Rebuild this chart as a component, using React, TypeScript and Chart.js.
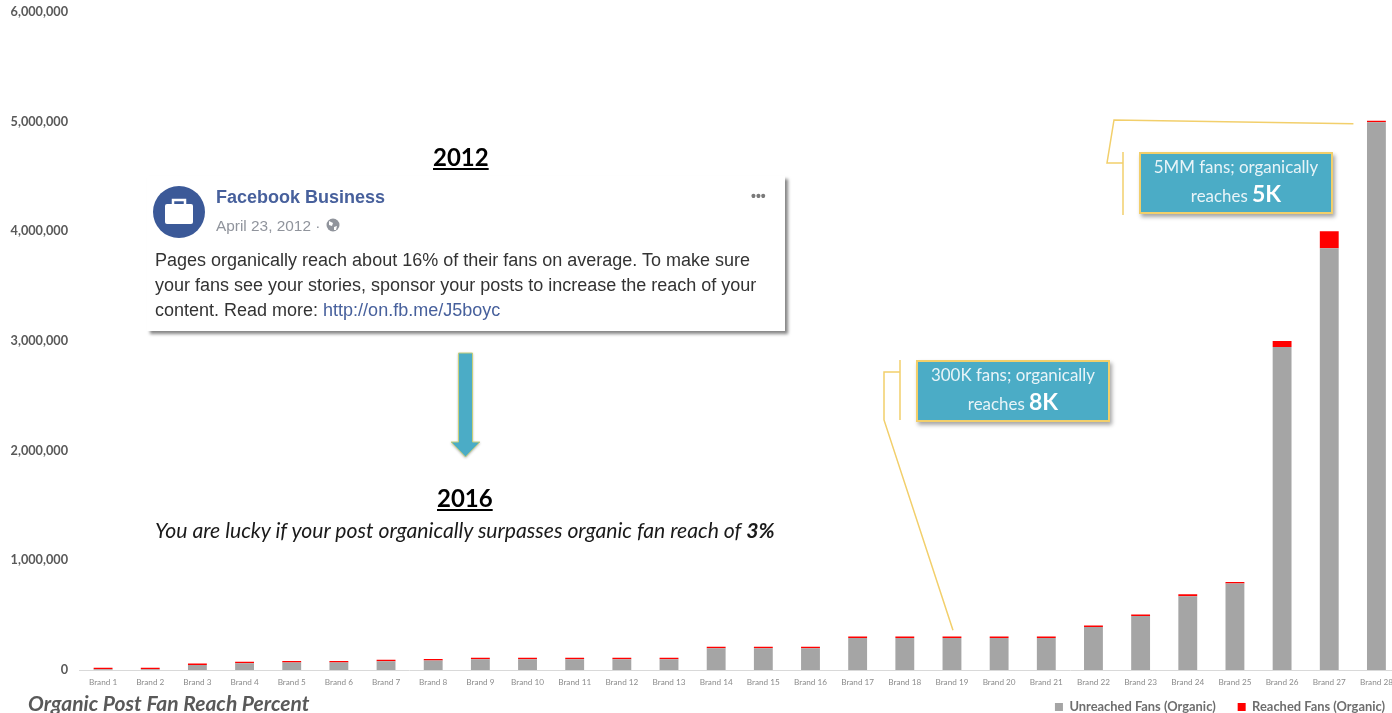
import React, { useEffect, useRef } from "react";
import { Chart, registerables } from "chart.js";

Chart.register(...registerables);

const brands = Array.from({ length: 28 }, (_, i) => `Brand ${i + 1}`);

// Organic fans per brand who did not see a post
const unreachedFans = [
  8000, 8000, 46000, 62000, 70000, 70000, 80000, 88000, 98000, 98000, 98000, 98000, 98000,
  198000, 198000, 198000, 292000, 292000, 292000, 292000, 292000, 392000, 492000, 672000,
  790000, 2945000, 3845000, 4995000,
];

// Organic fans per brand who did see a post
const reachedFans = [
  14000, 14000, 9000, 10000, 12000, 12000, 12000, 12000, 12000, 12000, 12000, 12000, 12000,
  10000, 10000, 10000, 8000, 8000, 8000, 8000, 8000, 8000, 10000, 20000,
  10000, 55000, 155000, 5000,
];

const yTicks = [0, 1000000, 2000000, 3000000, 4000000, 5000000, 6000000];

const LEAD = "#f2cf6b";
const TEAL = "#4bacc6";

// Positions the bottom title and legend, and draws the leader lines from each callout to its bar.
const calloutPlugin = {
  id: "calloutLeaders",
  afterLayout(chart: any) {
    const t = chart.titleBlock;
    t.left = 28;
    t.right = 700;
    t.top = 692;
    t.bottom = 713;
    const l = chart.legend;
    l.top = 701 - l.height / 2;
    l.bottom = l.top + l.height;
    l.right = 1407;
  },
  afterDraw(chart: any) {
    const { ctx, scales } = chart;
    const xs = scales.x;
    const ys = scales.y;
    ctx.save();
    ctx.strokeStyle = LEAD;
    ctx.lineWidth = 1.5;
    const poly = (pts: number[][]) => {
      ctx.beginPath();
      pts.forEach(([x, y], i) => (i ? ctx.lineTo(x, y) : ctx.moveTo(x, y)));
      ctx.stroke();
    };
    const top28 = ys.getPixelForValue(unreachedFans[27] + reachedFans[27]);
    poly([[xs.getPixelForValue(27) - 23, top28 + 2], [1114, 120], [1107, 163], [1123, 163]]);
    poly([[1123, 152], [1123, 215]]);
    const top19 = ys.getPixelForValue(unreachedFans[18] + reachedFans[18]);
    poly([[xs.getPixelForValue(18) + 1, top19 - 7], [884, 420], [884, 372], [900, 372]]);
    poly([[900, 360], [900, 420]]);
    ctx.restore();
  },
};

const abs = (left: number, top: number, extra: React.CSSProperties = {}): React.CSSProperties => ({
  position: "absolute",
  left,
  top,
  whiteSpace: "nowrap",
  ...extra,
});

function Callout({ left, top, head, tail, big }: { left: number; top: number; head: string; tail: string; big: string }) {
  return (
    <div
      style={abs(left, top, {
        width: 190,
        height: 58,
        background: TEAL,
        border: `2px solid ${LEAD}`,
        boxShadow: "2px 3px 4px rgba(0,0,0,0.35)",
        color: "#e8f4f8",
        fontFamily: "Lato, sans-serif",
        fontSize: 16.9,
        textAlign: "center",
        lineHeight: "27px",
      })}
    >
      <div style={{ marginTop: -1 }}>{head}</div>
      <div>
        {tail} <b style={{ fontSize: 23, color: "#fff" }}>{big}</b>
      </div>
    </div>
  );
}

export default function App() {
  const ref = useRef<HTMLCanvasElement>(null);

  useEffect(() => {
    const chart = new Chart(ref.current!, {
      type: "bar",
      plugins: [calloutPlugin],
      data: {
        labels: brands,
        datasets: [
          { label: "Unreached Fans (Organic)", data: unreachedFans, backgroundColor: "#a5a5a5", stack: "fans" },
          { label: "Reached Fans (Organic)", data: reachedFans, backgroundColor: "#ff0000", stack: "fans", minBarLength: 1.5 },
        ],
      },
      options: {
        responsive: false,
        animation: false,
        layout: { padding: { left: 5, top: 12, right: 0, bottom: 0 } },
        datasets: { bar: { barPercentage: 0.8, categoryPercentage: 0.5 } },
        scales: {
          x: {
            stacked: true,
            grid: { display: false, drawTicks: false },
            border: { color: "#d9d9d9", width: 1 },
            ticks: {
              autoSkip: false,
              maxRotation: 0,
              padding: 7,
              color: "#8c8c8c",
              font: { family: "Lato, sans-serif", size: 8.2 },
            },
          },
          y: {
            stacked: true,
            min: 0,
            max: 6000000,
            grid: { display: false, drawTicks: false },
            border: { display: false },
            afterFit: (s: any) => {
              s.width = 74.5;
              s.paddingTop = 0;
              s.paddingBottom = 0;
            },
            afterBuildTicks: (s: any) => {
              s.ticks = yTicks.map((value) => ({ value }));
            },
            ticks: {
              padding: 11.5,
              color: "#595959",
              font: { family: "Lato, sans-serif", size: 12.7, weight: "bold" },
              callback: (v: any) => Number(v).toLocaleString("en-US"),
            },
          },
        },
        plugins: {
          tooltip: { enabled: false },
          title: {
            display: true,
            text: "Organic Post Fan Reach Percent",
            position: "bottom",
            align: "start",
            color: "#595959",
            padding: 0,
            font: { family: "Lato, sans-serif", size: 21, weight: "bold", style: "italic" },
          },
          legend: {
            position: "bottom",
            align: "end",
            labels: {
              boxWidth: 8,
              boxHeight: 8,
              padding: 22,
              color: "#6e6e6e",
              font: { family: "Lato, sans-serif", size: 12.9, weight: "bold" },
            },
          },
        },
      } as any,
    });
    return () => chart.destroy();
  }, []);

  return (
    <div style={{ position: "fixed", left: 0, top: 0, width: 1392, height: 713, overflow: "hidden", background: "#fff" }}>
      <canvas ref={ref} width={1400} height={764} style={{ position: "absolute", left: 0, top: 0 }} />

      <div style={abs(433, 142, { font: "bold 24px Lato, sans-serif", color: "#000", textDecoration: "underline" })}>2012</div>

      <div
        style={abs(147, 176, {
          width: 638,
          height: 155,
          background: "#fff",
          boxShadow: "3px 3px 3px rgba(70,70,70,0.65)",
          fontFamily: "'Liberation Sans', Arial, sans-serif",
        })}
      >
        <svg width={54} height={54} style={{ position: "absolute", left: 5, top: 9 }} viewBox="0 0 54 54">
          <circle cx={27} cy={27} r={26} fill="#3b5998" />
          <rect x={13} y={19} width={28} height={20} rx={2} fill="#fff" />
          <path d="M21 19 v-4 h12 v4" fill="none" stroke="#fff" strokeWidth={2.5} />
        </svg>
        <div style={abs(69, 11, { fontSize: 18, fontWeight: "bold", color: "#47609c" })}>Facebook Business</div>
        <div style={abs(69, 41, { fontSize: 15.4, color: "#90949c" })}>April 23, 2012 ·</div>
        <svg width={14} height={14} style={{ position: "absolute", left: 179, top: 42 }} viewBox="0 0 14 14">
          <circle cx={7} cy={7} r={6.5} fill="#90949c" />
          <path d="M3 3 L7 5 L6 8 L3 7 Z M8 9 L11 8 L10 12 L8 12 Z" fill="#fff" />
        </svg>
        <div style={abs(604, 12, { fontSize: 14, fontWeight: "bold", color: "#7a7a7a" })}>•••</div>
        <div style={abs(8, 72, { fontSize: 18, lineHeight: "24.8px", color: "#333" })}>
          Pages organically reach about 16% of their fans on average. To make sure
          <br />
          your fans see your stories, sponsor your posts to increase the reach of your
          <br />
          content. Read more: <span style={{ color: "#47609c" }}>http://on.fb.me/J5boyc</span>
        </div>
      </div>

      <svg width={40} height={115} style={{ position: "absolute", left: 445, top: 350 }}>
        <path
          d="M13.5 3 H27.5 V92 H35 L20.5 107 L6 92 H13.5 Z"
          fill={TEAL}
          stroke="#c6cf7a"
          strokeWidth={1}
          style={{ filter: "drop-shadow(0 1px 1px rgba(0,0,0,0.25))" }}
        />
      </svg>

      <div style={abs(437, 483, { font: "bold 24px Lato, sans-serif", color: "#000", textDecoration: "underline" })}>2016</div>
      <div style={abs(155, 517, { font: "italic 21.2px Lato, sans-serif", color: "#1a1a1a" })}>
        You are lucky if your post organically surpasses organic fan reach of <b>3%</b>
      </div>

      <Callout left={1139} top={152} head="5MM fans; organically" tail="reaches" big="5K" />
      <Callout left={916} top={360} head="300K fans; organically" tail="reaches" big="8K" />
    </div>
  );
}
